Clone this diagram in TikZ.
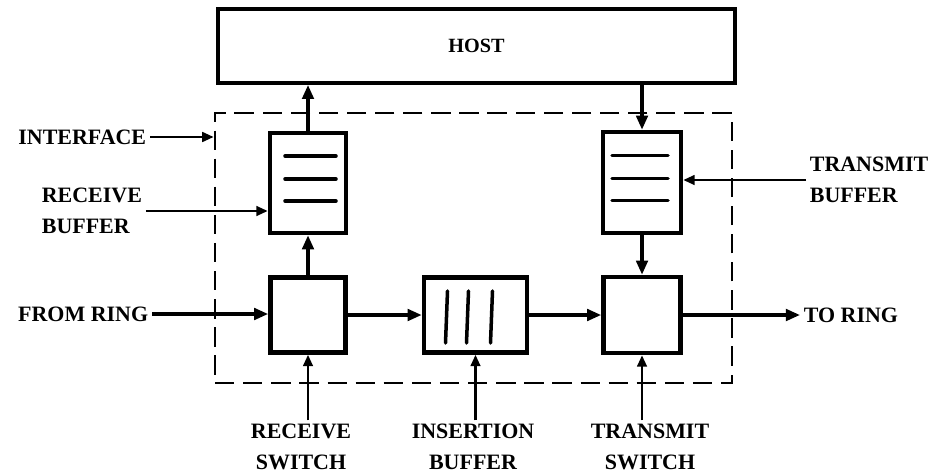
\documentclass[tikz,border=0pt]{standalone}
\usepackage{fontspec}
\setmainfont{Liberation Serif}
\usetikzlibrary{calc, positioning, arrows.meta}

\begin{document}
\begin{tikzpicture}[
  x=0.02cm, y=-0.02cm,
  blk/.style={rectangle, draw, line width=2.6pt, inner sep=0pt},
  lbl/.style={font=\fontsize{12.5}{17.5}\selectfont\bfseries, inner sep=2pt},
  flow/.style={line width=1.9pt, -{Triangle[length=8pt, width=6.5pt]}},
  ptr/.style={line width=1.4pt, -{Triangle[length=6.5pt, width=5.5pt]}},
  slot/.style={line width=2pt, line cap=round}
]
  \useasboundingbox (0,0) rectangle (935,473);

  \node[blk, line width=2.2pt, minimum width=10.34cm, minimum height=1.48cm, font=\fontsize{11.5}{13}\selectfont\bfseries] (host) at (476.5,46) {HOST};
  \node[draw, line width=1.6pt, dash pattern=on 11pt off 5pt, minimum width=10.34cm, minimum height=5.4cm] (iface) at (473.5,248) {};

  \node[blk, minimum width=1.52cm, minimum height=2cm] (rbuf) at (308,183) {};
  \node[blk, minimum width=1.56cm, minimum height=2.02cm] (tbuf) at (642,182.5) {};
  \node[blk, minimum width=1.5cm, minimum height=1.5cm] (rsw) at (308,315) {};
  \node[blk, minimum width=2.06cm, minimum height=1.5cm] (ibuf) at (475.5,315) {};
  \node[blk, minimum width=1.54cm, minimum height=1.52cm] (tsw) at (642,315) {};

  \foreach \dy in {-27,-4,18} {
    \draw[slot] ($(rbuf.center)+(-23,\dy)$) -- ($(rbuf.center)+(28,\dy)$);
    \draw[slot] ($(tbuf.center)+(-30,\dy)$) -- ($(tbuf.center)+(26,\dy)$);
  }
  \foreach \dx in {-29,-8,16}
    \draw[slot] ($(ibuf.center)+(\dx+1,-24)$) -- ($(ibuf.center)+(\dx-1,28)$);

  \node[lbl, anchor=east] (ifl) at (150,137) {INTERFACE};
  \node[lbl, anchor=west, align=left] (rbl) at (38,211) {RECEIVE\\BUFFER};
  \node[lbl, anchor=east] (frl) at (152,314) {FROM RING};
  \node[lbl, anchor=west, align=left] (tbl) at (806,180) {TRANSMIT\\BUFFER};
  \node[lbl, anchor=west] (trl) at (800,315) {TO RING};
  \node[lbl, align=center] (rswl) at (301,447) {RECEIVE\\SWITCH};
  \node[lbl, align=center] (ibl) at (473,447) {INSERTION\\BUFFER};
  \node[lbl, align=center] (tswl) at (650,447) {TRANSMIT\\SWITCH};

  \draw[flow] (rbuf.north) -- (rbuf.north |- host.south);
  \draw[flow] (tbuf.north |- host.south) -- (tbuf.north);
  \draw[flow] (rsw.north) -- (rbuf.south);
  \draw[flow] (tbuf.south) -- (tsw.north);
  \draw[flow] (frl.east) -- (frl.east -| rsw.west);
  \draw[flow] (rsw) -- (ibuf);
  \draw[flow] (ibuf) -- (tsw);
  \draw[flow] (tsw) -- (trl);

  \draw[ptr] (ifl.east) -- (ifl.east -| iface.west);
  \draw[ptr] (rbl.east) -- (rbl.east -| rbuf.west);
  \draw[ptr] (tbl.west) -- (tbl.west -| tbuf.east);
  \draw[ptr] (rsw.south |- rswl.north) -- (rsw.south);
  \draw[ptr] (ibuf.south |- ibl.north) -- (ibuf.south);
  \draw[ptr] (tsw.south |- tswl.north) -- (tsw.south);
\end{tikzpicture}
\end{document}
